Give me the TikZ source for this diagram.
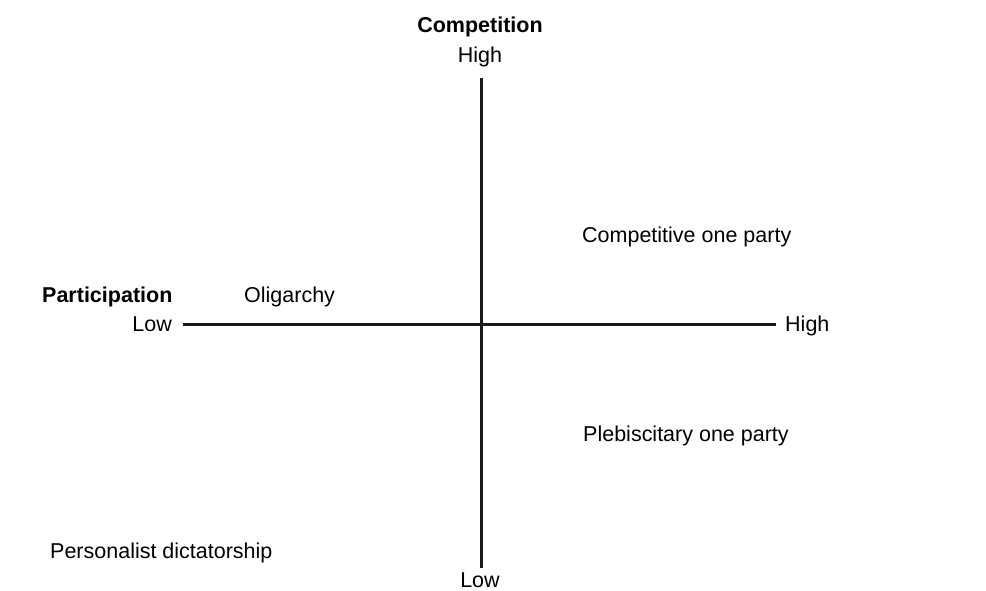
\documentclass[tikz,border=0pt]{standalone}
\usepackage{fontspec}
\setmainfont{Liberation Sans}
\begin{document}
\begin{tikzpicture}[x=1pt,y=-1pt,
  lbl/.style={inner sep=0pt,font=\fontsize{21.5}{25}\selectfont},
  hdr/.style={lbl,font=\fontsize{21.5}{25}\selectfont\bfseries},
  axis/.style={line width=3pt,color=black!90}]
\useasboundingbox (0,0) rectangle (986,591);
\node[hdr,anchor=base] (comp) at (480,33) {Competition};
\node[lbl,anchor=base] (chigh) at (480,63) {High};
\node[lbl,anchor=base] (clow) at (480,587.5) {Low};
\node[hdr,anchor=base west] (part) at (42,302.5) {Participation};
\node[lbl,anchor=base east] (plow) at (172,331) {Low};
\node[lbl,anchor=base west] (phigh) at (785,331) {High};
\coordinate (vt) at (481,78);
\coordinate (vb) at (481,568);
\coordinate (hl) at (183,324);
\coordinate (hr) at (776,324);
\draw[axis] (vt) -- (vb);
\draw[axis] (hl) -- (hr);
\node[lbl,anchor=base west] (olig) at (244,302) {Oligarchy};
\node[lbl,anchor=base west] (cop) at (582,243) {Competitive one party};
\node[lbl,anchor=base west] (pop) at (583,441) {Plebiscitary one party};
\node[lbl,anchor=base west] (pd) at (50,558) {Personalist dictatorship};
\end{tikzpicture}
\end{document}
